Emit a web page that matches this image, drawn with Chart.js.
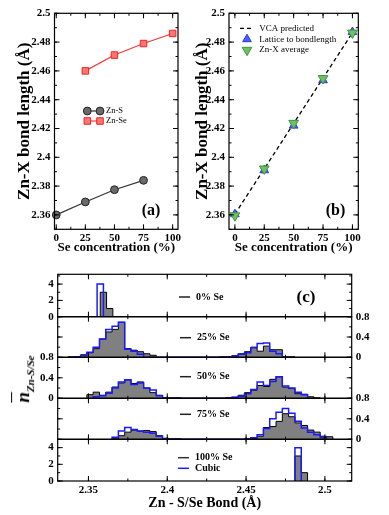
<!DOCTYPE html>
<html>
<head>
<meta charset="utf-8">
<script src="https://cdn.jsdelivr.net/npm/chart.js@4.4.1/dist/chart.umd.min.js"></script>
<style>
  body { margin: 0; background: #fff; }
  #fig { position: relative; width: 389px; height: 515px; overflow: hidden; }
  #fig canvas { position: absolute; left: 0; top: 0; }
  #nlabel {
    position: absolute; left: 24px; top: 379px;
    transform: translate(-50%, -50%) rotate(-90deg);
    font: italic bold 19px 'Liberation Serif', serif; white-space: nowrap; color: #000;
  }
  #nlabel sub { font-size: 11px; }
</style>
</head>
<body>
<div id="fig">
  <canvas id="pa" width="389" height="515"></canvas>
  <canvas id="pb" width="389" height="515"></canvas>
  <canvas id="c1" width="389" height="515"></canvas>
  <canvas id="c2" width="389" height="515"></canvas>
  <canvas id="c3" width="389" height="515"></canvas>
  <canvas id="c4" width="389" height="515"></canvas>
  <canvas id="c5" width="389" height="515"></canvas>
  <div id="nlabel"><span style="text-decoration: overline">n</span><sub>Zn-S/Se</sub></div>
</div>
<script>
// ---- panel (a): bond length of each pair vs Se concentration
const znSConc = [0, 25, 50, 75];
const znSBond = [2.360, 2.369, 2.3775, 2.384];
const znSeConc = [25, 50, 75, 100];
const znSeBond = [2.460, 2.471, 2.479, 2.486];

// ---- panel (b): average bond length
const seConc = [0, 25, 50, 75, 100];
const latticeBond = [2.3605, 2.391, 2.422, 2.4535, 2.487];
const znXAverage = [2.3595, 2.392, 2.4237, 2.4548, 2.4864];
const vcaConc = [0, 100];
const vcaBond = [2.3605, 2.4865];

const concTicks = [0, 25, 50, 75, 100];
const bondTicks = [2.36, 2.38, 2.4, 2.42, 2.44, 2.46, 2.48, 2.5];
const histXTicks = [2.35, 2.4, 2.45, 2.5];
const countTicks = [0, 2, 4];
const fracTicks = [0, 0.4, 0.8];

// ---- panel (c): histograms, first bin left edge + bar heights (bins 0.004 wide)
const binWidth = 0.004;
const se0GrayFrom = 2.3575, se0Gray = [3, 1];
const se0CubicFrom = 2.3555, se0Cubic = [4];

const se25GrayFrom = 2.337;
const se25Gray = [0.01, 0.01, 0.05, 0.09, 0.17, 0.36, 0.50, 0.55, 0.69, 0.17, 0.14, 0.11, 0.07, 0.04,
  0, 0, 0, 0, 0, 0, 0, 0, 0, 0,
  0.01, 0.01, 0.03, 0.07, 0.11, 0.20, 0.12, 0.22, 0.15, 0.15, 0.01, 0.01];
const se25CubicFrom = 2.341;
const se25Cubic = [0.01, 0.03, 0.10, 0.20, 0.36, 0.55, 0.61, 0.69, 0.16, 0.12, 0.06,
  0, 0, 0, 0, 0, 0, 0, 0, 0, 0, 0, 0, 0, 0,
  0.02, 0.06, 0.09, 0.19, 0.27, 0.28, 0.12, 0.07];

const se50GrayFrom = 2.349;
const se50Gray = [0.07, 0.12, 0.06, 0.12, 0.22, 0.30, 0.36, 0.29, 0.32, 0.20, 0.11, 0.06, 0.01, 0.01, 0.01,
  0, 0, 0, 0, 0, 0, 0,
  0.01, 0.02, 0.06, 0.11, 0.16, 0.25, 0.23, 0.37, 0.42, 0.22, 0.19, 0.09, 0.08, 0.03, 0.01];
const se50CubicFrom = 2.353;
const se50Cubic = [0.03, 0.05, 0.10, 0.20, 0.32, 0.36, 0.27, 0.30, 0.20, 0.16, 0.05,
  0, 0, 0, 0, 0, 0, 0, 0, 0, 0, 0,
  0.02, 0.04, 0.09, 0.17, 0.32, 0.25, 0.33, 0.42, 0.24, 0.20, 0.12, 0.07];

const se75GrayFrom = 2.365;
const se75Gray = [0.01, 0.07, 0.14, 0.18, 0.16, 0.17, 0.15, 0.07, 0.02, 0.01, 0.01,
  0, 0, 0, 0, 0, 0, 0, 0, 0, 0,
  0.01, 0.02, 0.06, 0.23, 0.25, 0.35, 0.50, 0.44, 0.32, 0.27, 0.18, 0.14, 0.06, 0.05];
const se75CubicFrom = 2.365;
const se75Cubic = [0.04, 0.16, 0.23, 0.19, 0.16, 0.14, 0.12, 0.06,
  0, 0, 0, 0, 0, 0, 0, 0, 0, 0, 0, 0, 0, 0,
  0.03, 0.09, 0.21, 0.40, 0.53, 0.60, 0.51, 0.35, 0.22, 0.14, 0.09, 0.03];

const se100GrayFrom = 2.481, se100Gray = [3, 1];
const se100CubicFrom = 2.481, se100Cubic = [4];

Chart.defaults.font.family = "'Liberation Serif', serif";
Chart.defaults.color = '#000';
Chart.defaults.animation = false;

const SERIF = "'Liberation Serif', serif";

function xy(xs, ys) {
  return xs.map((x, i) => ({ x: x, y: ys[i] }));
}

// outline of a histogram as points for a stepped line
function stepPoints(from, heights) {
  const pts = [{ x: from, y: 0 }];
  heights.forEach((h, i) => pts.push({ x: from + i * binWidth, y: h }));
  pts.push({ x: from + heights.length * binWidth, y: 0 });
  return pts;
}

function fixedTicks(values) {
  return s => { s.ticks = values.map(v => ({ value: v })); };
}

// box around the plot with inward ticks on all four sides
function boxTicks(xMinor, yMinor) {
  return {
    id: 'boxTicks',
    afterDatasetsDraw(chart) {
      const { ctx, chartArea: a } = chart;
      ctx.save();
      ctx.strokeStyle = '#000';
      ctx.lineWidth = 1;
      ctx.beginPath();
      const mark = (s, v, len) => {
        const p = s.getPixelForValue(v);
        if (s.isHorizontal()) {
          ctx.moveTo(p, a.bottom); ctx.lineTo(p, a.bottom - len);
          ctx.moveTo(p, a.top); ctx.lineTo(p, a.top + len);
        } else {
          ctx.moveTo(a.left, p); ctx.lineTo(a.left + len, p);
          ctx.moveTo(a.right, p); ctx.lineTo(a.right - len, p);
        }
      };
      [[chart.scales.x, xMinor], [chart.scales.y, yMinor]].forEach(([s, step]) => {
        s.ticks.forEach(t => mark(s, t.value, 5));
        for (let k = Math.ceil(s.min / step - 1e-6); k * step <= s.max + 1e-9; k++) mark(s, k * step, 2.5);
      });
      ctx.stroke();
      ctx.lineWidth = 1.2;
      ctx.strokeRect(a.left, a.top, a.right - a.left, a.bottom - a.top);
      ctx.restore();
    }
  };
}

function textNotes(items) {
  return {
    id: 'textNotes',
    afterDraw(chart) {
      const ctx = chart.ctx;
      ctx.save();
      items.forEach(n => {
        if (n.dash) {
          ctx.strokeStyle = n.dash;
          ctx.lineWidth = 1.5;
          ctx.beginPath();
          ctx.moveTo(n.x - 17, n.y);
          ctx.lineTo(n.x - 6, n.y);
          ctx.stroke();
        }
        ctx.font = n.font;
        ctx.fillStyle = '#000';
        ctx.textAlign = n.align || 'left';
        ctx.textBaseline = 'middle';
        ctx.fillText(n.text, n.x, n.y);
      });
      ctx.restore();
    }
  };
}

function sampleLegend(x, textX, y, rowH, len, markersAtEnds, font) {
  return {
    id: 'sampleLegend',
    afterDraw(chart) {
      const ctx = chart.ctx;
      ctx.save();
      chart.data.datasets.forEach((ds, i) => {
        const yy = y + i * rowH;
        if (ds.showLine) {
          ctx.strokeStyle = ds.borderColor;
          ctx.lineWidth = ds.borderWidth;
          ctx.setLineDash(ds.borderDash || []);
          ctx.beginPath();
          ctx.moveTo(x, yy);
          ctx.lineTo(x + len, yy);
          ctx.stroke();
          ctx.setLineDash([]);
        }
        if (ds.pointRadius > 0) {
          const px = markersAtEnds ? [x, x + len] : [x + len / 2];
          ctx.fillStyle = ds.pointBackgroundColor;
          ctx.strokeStyle = ds.pointBorderColor;
          ctx.lineWidth = ds.pointBorderWidth;
          px.forEach(p => Chart.helpers.drawPoint(ctx, {
            pointStyle: ds.pointStyle, radius: ds.pointRadius,
            rotation: ds.pointRotation || 0, borderWidth: ds.pointBorderWidth
          }, p, yy));
        }
        ctx.fillStyle = '#000';
        ctx.font = font;
        ctx.textAlign = 'left';
        ctx.textBaseline = 'middle';
        ctx.fillText(ds.label, textX, yy);
      });
      ctx.restore();
    }
  };
}

// shared axes of panels (a) and (b)
function bondScales(xMin, yAxisW, titlePad) {
  return {
    x: {
      type: 'linear', min: xMin, max: xMin === -5 ? 105 : 104.6,
      afterBuildTicks: fixedTicks(concTicks),
      afterFit: s => { s.height = 30; },
      grid: { display: false, drawTicks: false }, border: { display: false },
      ticks: { autoSkip: false, maxRotation: 0, padding: 2, font: { size: 11, weight: 'bold' } },
      title: { display: true, text: 'Se concentration (%)', font: { size: 13, weight: 'bold' }, padding: { top: 0, bottom: 4 } }
    },
    y: {
      min: 2.35, max: 2.5,
      afterBuildTicks: fixedTicks(bondTicks),
      afterFit: s => { s.width = yAxisW; },
      grid: { display: false, drawTicks: false }, border: { display: false },
      ticks: { autoSkip: false, padding: 4, font: { size: 11, weight: 'bold' }, callback: v => +v.toFixed(3) },
      title: { display: true, text: 'Zn-X bond length (Å)', font: { size: 17, weight: 'bold' }, padding: { top: titlePad, bottom: 0 } }
    }
  };
}

// (a)
new Chart(document.getElementById('pa'), {
  type: 'scatter',
  data: {
    datasets: [
      {
        label: 'Zn-S', data: xy(znSConc, znSBond), showLine: true, clip: false,
        borderColor: '#333', borderWidth: 1.2,
        pointStyle: 'circle', pointRadius: 3.9, pointBackgroundColor: '#6a6a6a',
        pointBorderColor: '#222', pointBorderWidth: 1
      },
      {
        label: 'Zn-Se', data: xy(znSeConc, znSeBond), showLine: true, clip: false,
        borderColor: '#f23a3a', borderWidth: 1.2,
        pointStyle: 'rect', pointRadius: 4.6, pointBackgroundColor: '#ff7676',
        pointBorderColor: '#ee2222', pointBorderWidth: 1
      }
    ]
  },
  options: {
    responsive: false,
    layout: { padding: { left: 54.5 - 45, top: 13.3, right: 389 - 178, bottom: 515 - 229.3 - 30 } },
    scales: bondScales(-1.5, 45, 5),
    plugins: { legend: { display: false }, tooltip: { enabled: false } }
  },
  plugins: [
    boxTicks(12.5, 0.01),
    sampleLegend(87.3, 106, 111, 10, 12.7, true, '8.5px ' + SERIF),
    textNotes([{ text: '(a)', x: 151, y: 210.7, align: 'center', font: 'bold 16px ' + SERIF }])
  ]
});

// (b)
new Chart(document.getElementById('pb'), {
  type: 'scatter',
  data: {
    datasets: [
      {
        label: 'VCA predicted', data: xy(vcaConc, vcaBond), showLine: true, order: 2,
        borderColor: '#000', borderWidth: 1.3, borderDash: [4, 3], pointRadius: 0
      },
      {
        label: 'Lattice to bondlength', data: xy(seConc, latticeBond), showLine: false, order: 1, clip: false,
        pointStyle: 'triangle', pointRadius: 5, pointBackgroundColor: '#4c5cf5',
        pointBorderColor: '#2b3bd8', pointBorderWidth: 1
      },
      {
        label: 'Zn-X average', data: xy(seConc, znXAverage), showLine: false, order: 0, clip: false,
        pointStyle: 'triangle', pointRotation: 180, pointRadius: 5.6, pointBackgroundColor: '#6fc064',
        pointBorderColor: '#3f9440', pointBorderWidth: 1
      }
    ]
  },
  options: {
    responsive: false,
    layout: { padding: { left: 229 - 45, top: 13.3, right: 389 - 358.3, bottom: 515 - 229.3 - 30 } },
    scales: bondScales(-5, 45, 8),
    plugins: { legend: { display: false }, tooltip: { enabled: false } }
  },
  plugins: [
    boxTicks(12.5, 0.01),
    sampleLegend(240, 259.3, 28.3, 10.9, 14, false, '9px ' + SERIF),
    textNotes([{ text: '(b)', x: 335.5, y: 210.7, align: 'center', font: 'bold 16px ' + SERIF }])
  ]
});

// (c) stacked histogram panels
const C_LEFT = 57.7, C_RIGHT = 351.7, C_AXIS_W = 34;
const noteFont = 'bold 10px ' + SERIF;

function histPanel(id, top, bottom, yMax, yTicks, yMinor, side, grayFrom, gray, cubicFrom, cubic, notes, lastPanel) {
  const xH = lastPanel ? 34 : 0;
  new Chart(document.getElementById(id), {
    type: 'scatter',
    data: {
      datasets: [
        {
          label: 'Cubic', data: stepPoints(cubicFrom, cubic), showLine: true, stepped: 'before',
          fill: false, borderColor: '#1a1aff', borderWidth: 1.5, pointRadius: 0
        },
        {
          label: 'Zn-S/Se', data: stepPoints(grayFrom, gray), showLine: true, stepped: 'before',
          fill: 'origin', backgroundColor: '#808080', borderColor: '#000', borderWidth: 1, pointRadius: 0
        }
      ]
    },
    options: {
      responsive: false,
      layout: {
        padding: {
          left: side === 'left' ? C_LEFT - C_AXIS_W : C_LEFT,
          right: side === 'right' ? 389 - C_RIGHT - C_AXIS_W : 389 - C_RIGHT,
          top: top,
          bottom: 515 - bottom - xH
        }
      },
      scales: {
        x: {
          type: 'linear', min: 2.3305, max: 2.517,
          afterBuildTicks: fixedTicks(histXTicks),
          afterFit: s => { s.height = xH; },
          grid: { display: false, drawTicks: false }, border: { display: false },
          ticks: { display: lastPanel, autoSkip: false, maxRotation: 0, padding: 3,
            font: { size: 11, weight: 'bold' }, callback: v => +v.toFixed(3) },
          title: { display: lastPanel, text: 'Zn - S/Se Bond (Å)', font: { size: 14, weight: 'bold' },
            padding: { top: 0, bottom: 3.5 } }
        },
        y: {
          position: side, min: 0, max: yMax,
          afterBuildTicks: fixedTicks(yTicks),
          afterFit: s => { s.width = C_AXIS_W; },
          grid: { display: false, drawTicks: false }, border: { display: false },
          ticks: { autoSkip: false, padding: 4, font: { size: 11, weight: 'bold' }, callback: v => +v.toFixed(3) }
        }
      },
      plugins: { legend: { display: false }, tooltip: { enabled: false } }
    },
    plugins: [boxTicks(0.025, yMinor), textNotes(notes)]
  });
}

histPanel('c1', 274.3, 316.7, 5.2, countTicks, 1, 'left', se0GrayFrom, se0Gray, se0CubicFrom, se0Cubic, [
  { text: '0% Se', x: 196, y: 297, dash: '#222', font: noteFont },
  { text: '(c)', x: 306, y: 298, align: 'center', font: 'bold 17px ' + SERIF }
], false);
histPanel('c2', 316.7, 357.3, 0.8, fracTicks, 0.2, 'right', se25GrayFrom, se25Gray, se25CubicFrom, se25Cubic, [
  { text: '25% Se', x: 197, y: 337.7, dash: '#222', font: noteFont }
], false);
histPanel('c3', 357.3, 398.3, 0.8, fracTicks, 0.2, 'left', se50GrayFrom, se50Gray, se50CubicFrom, se50Cubic, [
  { text: '50% Se', x: 197, y: 376.7, dash: '#222', font: noteFont }
], false);
histPanel('c4', 398.3, 439.3, 0.8, fracTicks, 0.2, 'right', se75GrayFrom, se75Gray, se75CubicFrom, se75Cubic, [
  { text: '75% Se', x: 197, y: 414.3, dash: '#222', font: noteFont }
], false);
histPanel('c5', 439.3, 481, 5, countTicks, 1, 'left', se100GrayFrom, se100Gray, se100CubicFrom, se100Cubic, [
  { text: '100% Se', x: 195, y: 457.7, dash: '#333', font: noteFont },
  { text: 'Cubic', x: 195, y: 468.3, dash: '#1a1aff', font: noteFont }
], true);
</script>
</body>
</html>
